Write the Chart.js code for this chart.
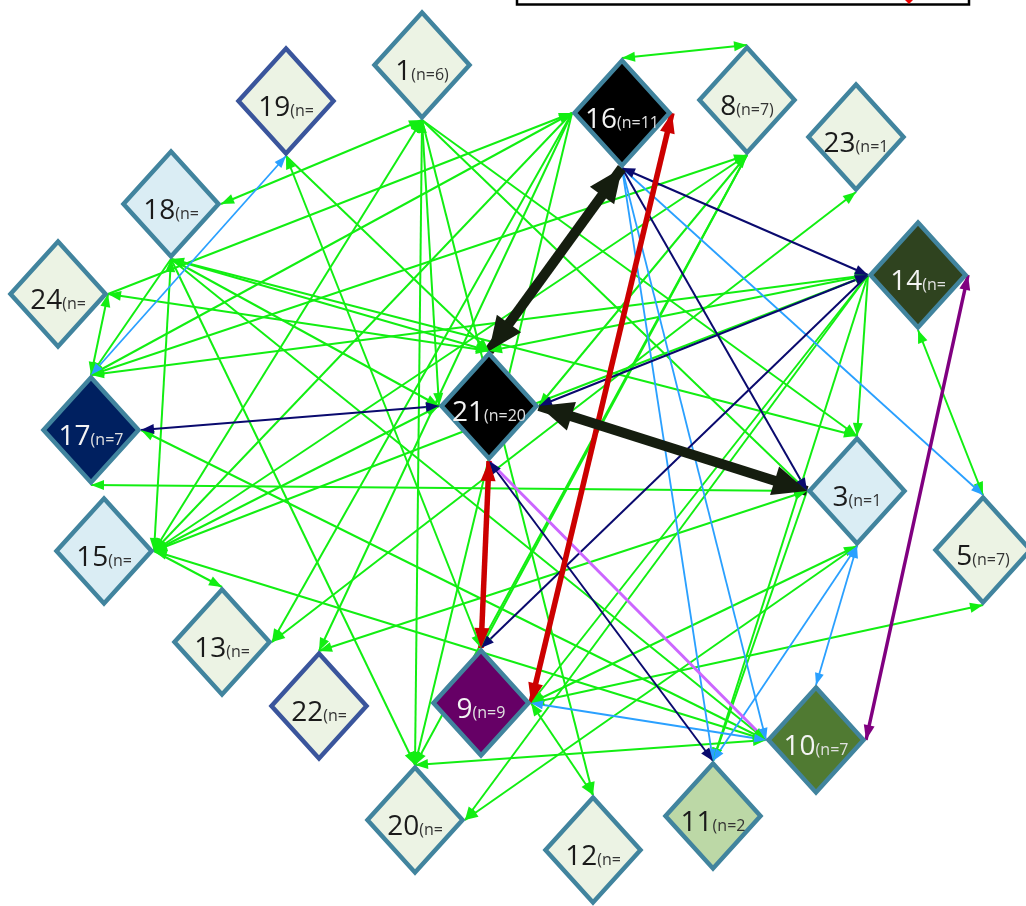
<!DOCTYPE html>
<html><head><meta charset="utf-8">
<script src="https://cdn.jsdelivr.net/npm/chart.js@4"></script>
<style>html,body{margin:0;padding:0;background:#fff;overflow:hidden}#wrap{width:1026px;height:906px;position:relative}</style>
</head><body><div id="wrap"><canvas id="c"></canvas></div>
<script>
// ---- data ----
const nodeIds    = ['1','19','18','24','17','15','13','22','20','9','12','11','10','5','3','14','23','8','16','21'];
const nodeCounts = ['(n=6)','(n=','(n=','(n=','(n=7','(n=','(n=','(n=','(n=','(n=9','(n=','(n=2','(n=7','(n=7)','(n=1','(n=','(n=1','(n=7)','(n=11','(n=20'];
const nodeX      = [422,286,171,58,91,104,222,319,415,481,593,713,816,983,857,918,856,747,622,489];
const nodeY      = [65,101,204,294,430,551,642,706,820,703,850,816,740,550,491,275,137,100,113,406];
const nodeGroup  = ['pale','paleB','blue','pale','navy','blue','pale','paleB','pale','purple','pale','sage','olive','pale','blue','forest','pale','pale','black','black'];

// edges: [from, side, to, side, arrows, kind]
const edgeList = [
 ['1','b','18','r','both','g'],['1','b','15','r','both','g'],['1','b','20','t','both','g'],
 ['1','b','12','t','end','g'],['1','b','3','t','end','g'],['1','b','21','l','end','g'],['1','b','3','l','end','g'],
 ['19','b','9','t','both','g'],['19','b','21','t','end','g'],
 ['18','b','21','t','both','g'],['18','b','21','l','end','g'],['18','b','3','t','end','g'],
 ['18','b','10','l','end','g'],['18','b','15','r','both','g'],['18','b','17','t','end','g'],['18','b','20','t','end','g'],
 ['24','r','21','t','both','g'],['24','r','17','t','both','g'],['24','r','16','l','end','g'],
 ['16','l','17','t','both','g'],['16','l','13','r','end','g'],['16','l','22','t','end','g'],
 ['16','l','15','r','end','g'],['16','l','20','t','end','g'],['16','t','8','t','both','g'],
 ['17','t','14','l','both','g'],['17','t','8','b','both','g'],['17','r','10','l','both','g'],['17','b','3','l','both','g'],
 ['15','r','13','t','end','g'],['15','r','21','l','both','g'],['15','r','14','l','both','g'],
 ['15','r','10','l','both','g'],['15','r','8','b','end','g'],
 ['21','t','14','l','both','g'],['21','r','8','b','both','g'],['23','b','13','r','both','g'],
 ['14','l','3','t','end','g'],['14','l','20','r','end','g'],['14','l','11','t','end','g'],['14','l','9','r','end','g'],
 ['14','b','5','t','both','g'],
 ['3','l','22','t','both','g'],['3','l','11','t','end','g'],['3','b','9','r','both','g'],['3','b','20','r','end','g'],
 ['9','r','5','b','both','g'],['9','r','12','t','both','g'],['10','l','20','t','both','g'],
 ['8','b','9','t','end','g'],['8','b','20','t','end','g'],
 ['17','t','19','b','both','b'],['16','b','11','t','end','b'],['16','b','10','l','end','b'],['16','b','5','t','end','b'],
 ['10','l','9','r','both','b'],['3','b','11','t','both','b'],['3','b','10','t','both','b'],
 ['17','r','21','l','both','n'],['16','b','14','l','both','n'],['16','b','3','l','end','n'],
 ['14','l','21','r','both','n'],['14','l','9','t','end','n'],['21','b','11','t','both','n'],
 ['21','b','10','l','none','lp'],
 ['14','r','10','r','both','p'],
 ['16','r','9','r','both','r'],['21','b','9','t','both','r'],
 ['16','b','21','t','both','k'],['21','r','3','l','both','k']
];

// ---- styles ----
const groupFill = {pale:'#ecf3e4',paleB:'#ecf3e4',blue:'#daedf4',navy:'#002060',purple:'#660066',sage:'#bcd8a6',olive:'#507a32',forest:'#2f431f',black:'#000000'};
const groupBorder = {paleB:'#3a559c'};
const darkGroups = ['navy','purple','olive','forest','black'];
const kindStyle = {
  g:{c:'#12ee12',w:2,hl:13,hw:10,o:10},
  b:{c:'#2aa0ff',w:1.8,hl:12,hw:9,o:6},
  n:{c:'#0a0a6e',w:2,hl:13,hw:10,o:5},
  lp:{c:'#cc66ff',w:3,hl:0,hw:0,o:4},
  p:{c:'#800080',w:3.5,hl:15,hw:11,o:3},
  r:{c:'#cc0000',w:5.5,hl:20,hw:15,o:2},
  k:{c:'#151d0f',w:10,hl:34,hw:30,o:1}
};
const HALF_W = 50, HALF_H = 55;
const sideOff = {t:[0,-HALF_H],b:[0,HALF_H],l:[-HALF_W,0],r:[HALF_W,0]};
const idx = id => nodeIds.indexOf(id);
function anchor(id, side){ const i = idx(id); return {x: nodeX[i]+sideOff[side][0], y: nodeY[i]+sideOff[side][1]}; }

const datasets = edgeList.map(e => {
  const s = kindStyle[e[5]];
  return {type:'line', data:[anchor(e[0],e[1]), anchor(e[2],e[3])], borderColor:s.c, borderWidth:s.w,
          pointRadius:0, fill:false, order:s.o, tension:0, arrows:e[4], kind:e[5]};
});
datasets.push({type:'scatter', label:'nodes', data:nodeX.map((x,i)=>({x, y:nodeY[i]})), pointRadius:0, order:0});

function head(ctx, tip, from, s){
  const ang = Math.atan2(tip.y-from.y, tip.x-from.x);
  ctx.save(); ctx.translate(tip.x, tip.y); ctx.rotate(ang);
  ctx.beginPath(); ctx.moveTo(0,0); ctx.lineTo(-s.hl, s.hw/2); ctx.lineTo(-s.hl, -s.hw/2); ctx.closePath();
  ctx.fillStyle = s.c; ctx.fill(); ctx.restore();
}

const NUM_FONT = '28px "Open Sans", sans-serif', CNT_FONT = '16px "Open Sans", sans-serif';
const netPlugin = {
  id:'net',
  afterDatasetsDraw(chart){
    const ctx = chart.ctx, xs = chart.scales.x, ys = chart.scales.y;
    const P = p => ({x: xs.getPixelForValue(p.x), y: ys.getPixelForValue(p.y)});
    const order = ['g','b','n','lp','p','r','k'];
    order.forEach(k => {
      chart.data.datasets.forEach(ds => {
        if (ds.kind !== k || !ds.arrows || ds.arrows==='none') return;
        const s = kindStyle[k]; const a = P(ds.data[0]), b = P(ds.data[1]);
        if (ds.arrows==='end' || ds.arrows==='both') head(ctx, b, a, s);
        if (ds.arrows==='start' || ds.arrows==='both') head(ctx, a, b, s);
      });
    });
    nodeIds.forEach((id,i) => {
      const c = P({x:nodeX[i], y:nodeY[i]});
      const hw = Math.abs(xs.getPixelForValue(nodeX[i]+HALF_W)-c.x);
      const hh = Math.abs(ys.getPixelForValue(nodeY[i]+HALF_H)-c.y);
      const g = nodeGroup[i];
      ctx.beginPath(); ctx.moveTo(c.x, c.y-hh+2.5); ctx.lineTo(c.x+hw-2.5, c.y); ctx.lineTo(c.x, c.y+hh-2.5); ctx.lineTo(c.x-hw+2.5, c.y); ctx.closePath();
      ctx.fillStyle = groupFill[g]; ctx.fill();
      ctx.lineWidth = 4.5; ctx.lineJoin = 'miter'; ctx.strokeStyle = groupBorder[g] || '#41849e'; ctx.stroke();
      const dark = darkGroups.includes(g);
      ctx.textBaseline = 'alphabetic'; ctx.textAlign = 'left';
      ctx.font = NUM_FONT; const w1 = ctx.measureText(id).width;
      ctx.font = CNT_FONT; const w2 = ctx.measureText(nodeCounts[i]).width;
      const x0 = c.x - (w1+w2)/2, base = c.y + 15;
      ctx.fillStyle = dark ? '#f4f4f4' : '#1a1a1a';
      ctx.font = NUM_FONT; ctx.fillText(id, x0, base);
      ctx.fillStyle = dark ? '#e0e0e0' : '#333';
      ctx.font = CNT_FONT; ctx.fillText(nodeCounts[i], x0+w1, base);
    });
    ctx.save(); ctx.strokeStyle = '#000'; ctx.lineWidth = 2.5;
    ctx.strokeRect(xs.getPixelForValue(517), ys.getPixelForValue(-10), xs.getPixelForValue(969)-xs.getPixelForValue(517), ys.getPixelForValue(4.5)-ys.getPixelForValue(-10));
    ctx.fillStyle = '#ee0000'; ctx.beginPath();
    const rx = xs.getPixelForValue(909), ry = ys.getPixelForValue(0);
    ctx.moveTo(rx-4, ry); ctx.lineTo(rx+4, ry); ctx.lineTo(rx, ry+4); ctx.closePath(); ctx.fill();
    ctx.restore();
  }
};

new Chart(document.getElementById('c'), {
  type:'scatter',
  data:{datasets},
  options:{
    responsive:true, maintainAspectRatio:false, animation:false,
    layout:{padding:0},
    plugins:{legend:{display:false}, tooltip:{enabled:false}},
    scales:{
      x:{type:'linear', min:0, max:1026, display:false},
      y:{type:'linear', min:0, max:906, reverse:true, display:false}
    }
  },
  plugins:[netPlugin]
});
</script></body></html>
